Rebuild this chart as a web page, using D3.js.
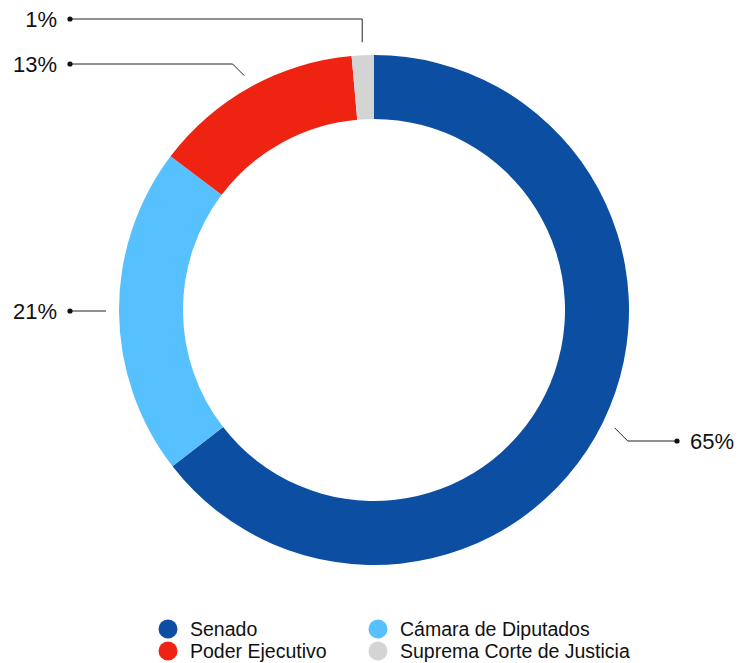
<!DOCTYPE html>
<html>
<head>
<meta charset="utf-8">
<script src="https://cdn.jsdelivr.net/npm/d3@7"></script>
<style>
    html, body { margin: 0; padding: 0; background: #fff; }
    svg { display: block; font-family: "Liberation Sans", Arial, sans-serif; }
</style>
</head>
<body>
<svg id="chart" width="740" height="663"></svg>
<script>
// Chart data
const categories = ['Senado', 'Cámara de Diputados', 'Poder Ejecutivo', 'Suprema Corte de Justicia'];
const shares = [64.5, 20.8, 13.3, 1.4];
const shareLabels = ['65%', '21%', '13%', '1%'];
const colors = ['#0c4ea2', '#57c0ff', '#ef2311', '#d4d4d4'];

// Legend order (two columns)
const legendOrder = ['Senado', 'Poder Ejecutivo', 'Cámara de Diputados', 'Suprema Corte de Justicia'];

const width = 740;
const height = 663;
const cx = 374;
const cy = 310;
const outerR = 255;
const innerR = 191;

const svg = d3.select('#chart');
const color = d3.scaleOrdinal().domain(categories).range(colors);

const slices = categories.map((name, i) => ({ name, value: shares[i], label: shareLabels[i] }));

const pie = d3.pie()
    .value(d => d.value)
    .sort(null);

const arcs = pie(slices);

const arc = d3.arc()
    .innerRadius(innerR)
    .outerRadius(outerR);

const g = svg.append('g').attr('transform', `translate(${cx},${cy})`);

g.selectAll('path')
    .data(arcs)
    .enter().append('path')
    .attr('d', arc)
    .attr('fill', d => color(d.data.name));

// Leader lines: label row y and bend style per slice
const leaderLayout = {
    'Senado': { y: 441, bend: 'diag' },
    'Cámara de Diputados': { y: 311, bend: 'none' },
    'Poder Ejecutivo': { y: 64, bend: 'diag' },
    'Suprema Corte de Justicia': { y: 19, bend: 'vert' }
};

const leaderR = 268;
const leftDotX = 70;
const rightDotX = 677;

const leaders = svg.append('g');

arcs.forEach(d => {
    const mid = (d.startAngle + d.endAngle) / 2;
    const x0 = cx + leaderR * Math.sin(mid);
    const y0 = cy - leaderR * Math.cos(mid);
    const lay = leaderLayout[d.data.name];
    const right = x0 > cx + 20;
    const dotX = right ? rightDotX : leftDotX;
    const sign = right ? 1 : -1;

    let pts;
    if (lay.bend === 'diag') {
        const ex = x0 + sign * Math.abs(lay.y - y0);
        pts = [[x0, y0], [ex, lay.y], [dotX, lay.y]];
    } else if (lay.bend === 'vert') {
        pts = [[x0, y0], [x0, lay.y], [dotX, lay.y]];
    } else {
        pts = [[x0, lay.y], [dotX, lay.y]];
    }

    leaders.append('path')
        .attr('d', d3.line()(pts))
        .attr('fill', 'none')
        .attr('stroke', '#222')
        .attr('stroke-width', 1);

    leaders.append('circle')
        .attr('cx', dotX)
        .attr('cy', lay.y)
        .attr('r', 2.6)
        .attr('fill', '#111');

    leaders.append('text')
        .attr('x', right ? dotX + 13 : dotX - 13)
        .attr('y', lay.y)
        .attr('dy', '0.36em')
        .attr('text-anchor', right ? 'start' : 'end')
        .attr('font-size', 22)
        .attr('fill', '#111')
        .text(d.data.label);
});

// Legend
const legend = svg.append('g');
const colX = [168, 378];
const rowY = [629, 651];

legendOrder.forEach((name, i) => {
    const col = Math.floor(i / 2);
    const row = i % 2;
    const item = legend.append('g')
        .attr('transform', `translate(${colX[col]},${rowY[row]})`);
    item.append('circle')
        .attr('r', 9.5)
        .attr('fill', color(name));
    item.append('text')
        .attr('x', 22)
        .attr('dy', '0.36em')
        .attr('font-size', 19.5)
        .attr('fill', '#111')
        .text(name);
});
</script>
</body>
</html>
